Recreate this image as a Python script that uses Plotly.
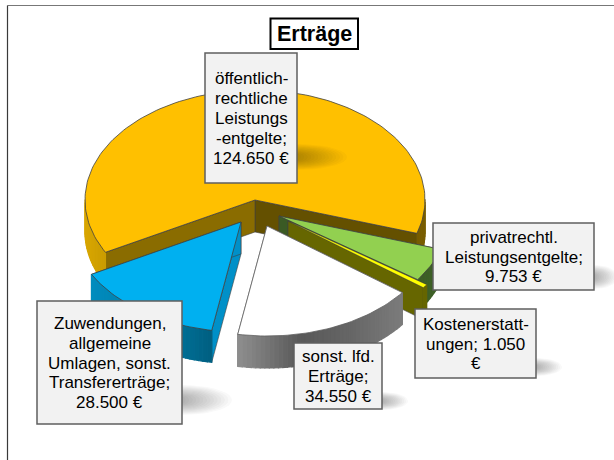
import math
import plotly.graph_objects as go

# ---- data ----
categories = ["öffentlich-<br>rechtliche<br>Leistungs<br>-entgelte", "privatrechtl.<br>Leistungsentgelte",
              "Kostenerstatt-<br>ungen", "sonst. lfd.<br>Erträge",
              "Zuwendungen,<br>allgemeine<br>Umlagen, sonst.<br>Transfererträge"]
values = [124650, 9753, 1050, 34550, 28500]
title_text = "Erträge"

# ---- geometry / styling ----
CX, CY, RX, RY, DEPTH = 255, 200, 170, 110, 32
START = 151.6  # degrees clockwise from east
offsets = [(0, 0), (24, 16), (33, 21), (12, 26), (-14, 22)]
top_col = ["#FFC000", "#92D050", "#FFFF00", "#FFFFFF", "#00B0F0"]
cut_end = ["#645000", "#3A5A24", "#666600", "#777777", "#0090C8"]
cut_start = ["#8A6C00", "#3A5A24", "#666600", "#777777", "#0090C8"]
wall_stops = [
    [(85, "#D8A600"), (110, "#C79A00"), (400, "#6E5600"), (425, "#7A5E00")],
    [(380, "#375623"), (440, "#3F6228")],
    [(400, "#666600"), (440, "#666600")],
    [(237, "#8F8F8F"), (300, "#585858"), (350, "#666666"), (402, "#7C7C7C")],
    [(91, "#008CBE"), (150, "#007DAA"), (212, "#005F80")],
]
edge_width = [0.8, 0.8, 0.3, 0.8, 0.8]
boxes = [(205, 53, 297, 183), (433, 223, 594, 290), (415, 309, 536, 378),
         (294, 343, 382, 409), (37, 301, 182, 424)]
shadows = [(297, 157, 50, 13), (594, 277, 24, 12), (536, 367, 26, 9),
           (382, 401, 26, 9), (182, 400, 50, 15)]
FONT = "Liberation Sans, Arial, sans-serif"
LINE_PITCH = 19.8


def hex_rgb(h):
    return [int(h[i:i + 2], 16) for i in (1, 3, 5)]


def wall_color(stops, x):
    if x <= stops[0][0]:
        return stops[0][1]
    for (x0, c0), (x1, c1) in zip(stops, stops[1:]):
        if x <= x1:
            t = (x - x0) / (x1 - x0)
            a, b = hex_rgb(c0), hex_rgb(c1)
            return "#%02X%02X%02X" % tuple(round(p + (q - p) * t) for p, q in zip(a, b))
    return stops[-1][1]


def rim(cx, cy, deg):
    r = math.radians(deg)
    return cx + RX * math.cos(r), cy + RY * math.sin(r)


fig = go.Figure()


def poly(xs, ys, fill, line=None, width=1.2):
    fig.add_trace(go.Scatter(
        x=list(xs) + [xs[0]], y=list(ys) + [ys[0]], mode="lines", fill="toself",
        fillcolor=fill, line=dict(color=line or fill, width=width),
        hoverinfo="skip", showlegend=False))


total = sum(values)
angle = START
for i, v in enumerate(values):
    a0, a1 = angle, angle + v / total * 360
    angle = a1
    cx, cy = CX + offsets[i][0], CY + offsets[i][1]
    edge = "#404040" if i != 3 else "#606060"
    p0, p1 = rim(cx, cy, a0), rim(cx, cy, a1)

    # cut faces: apex to rim, extruded downward
    faces = [(p0, cut_start[i]), (p1, cut_end[i])]
    if i == 0:
        faces = [(p1, cut_end[i]), (p0, cut_start[i])]
    for p, col in faces:
        poly([cx, p[0], p[0], cx], [cy, p[1], p[1] + DEPTH, cy + DEPTH], col, edge, 0.6)

    # outer wall in thin strips, only where it faces the viewer
    n = max(2, int((a1 - a0) / 1.5))
    for k in range(n):
        s0 = a0 + (a1 - a0) * k / n
        s1 = a0 + (a1 - a0) * (k + 1) / n
        if math.sin(math.radians((s0 + s1) / 2)) <= 0:
            continue
        q0, q1 = rim(cx, cy, s0), rim(cx, cy, s1)
        poly([q0[0], q1[0], q1[0], q0[0]], [q0[1], q1[1], q1[1] + DEPTH, q0[1] + DEPTH],
             wall_color(wall_stops[i], (q0[0] + q1[0]) / 2))

    # top face
    steps = max(2, int((a1 - a0) / 1.5))
    arc = [rim(cx, cy, a0 + (a1 - a0) * k / steps) for k in range(steps + 1)]
    poly([cx] + [p[0] for p in arc], [cy] + [p[1] for p in arc], top_col[i], edge, edge_width[i])

# soft label shadows (stacked translucent ellipses)
SHADOW_STEPS = 14
for x0, yc, ln, hh in shadows:
    for k in range(SHADOW_STEPS):
        f = 1 - k / SHADOW_STEPS
        pts = [(x0 + ln * f * math.cos(math.radians(t)), yc + hh * (0.2 + 0.8 * f) * math.sin(math.radians(t)))
               for t in range(-90, 91, 10)]
        poly([x0 - 6] + [p[0] for p in pts], [yc] + [p[1] for p in pts], "rgba(40,40,40,0.028)", "rgba(0,0,0,0)", 0)

shapes = [
    dict(type="line", x0=7.5, y0=5.5, x1=614, y1=5.5, line=dict(color="#777777", width=1.2), layer="below"),
    dict(type="line", x0=7.5, y0=5.5, x1=7.5, y1=460, line=dict(color="#3A3A3A", width=1.2), layer="below"),
    dict(type="rect", x0=270.5, y0=18.5, x1=358, y1=49, line=dict(color="#000000", width=2), fillcolor="#FFFFFF", layer="above"),
]
annotations = [dict(x=314, y=34, text="<b>%s</b>" % title_text, showarrow=False,
                    font=dict(family=FONT, size=21.5, color="#000000"), xanchor="center", yanchor="middle")]


def number(v):
    return f"{v:,}".replace(",", ".")


texts = [c + ";<br>" + number(v) + " €" for c, v in zip(categories, values)]
texts[2] = categories[2] + "; " + number(values[2]) + "<br>€"
for (x0, y0, x1, y1), t in zip(boxes, texts):
    shapes.append(dict(type="rect", x0=x0, y0=y0, x1=x1, y1=y1, layer="above",
                       line=dict(color="#5F5F5F", width=1.5), fillcolor="#F2F2F2"))
    lines = t.split("<br>")
    for j, ln_text in enumerate(lines):
        annotations.append(dict(
            x=(x0 + x1) / 2, y=(y0 + y1) / 2 + 0.5 + (j - (len(lines) - 1) / 2) * LINE_PITCH,
            text=ln_text, showarrow=False, align="center",
            font=dict(family=FONT, size=17, color="#000000"), xanchor="center", yanchor="middle"))

fig.update_layout(
    width=614, height=460, margin=dict(l=0, r=0, t=0, b=0), showlegend=False,
    paper_bgcolor="#FFFFFF", plot_bgcolor="#FFFFFF", shapes=shapes, annotations=annotations,
    xaxis=dict(range=[0, 614], visible=False, fixedrange=True),
    yaxis=dict(range=[460, 0], visible=False, fixedrange=True),
)
fig.write_html("out.html", config=dict(displayModeBar=False),
               post_script="document.body.style.margin='0';document.documentElement.style.overflow='hidden';")
